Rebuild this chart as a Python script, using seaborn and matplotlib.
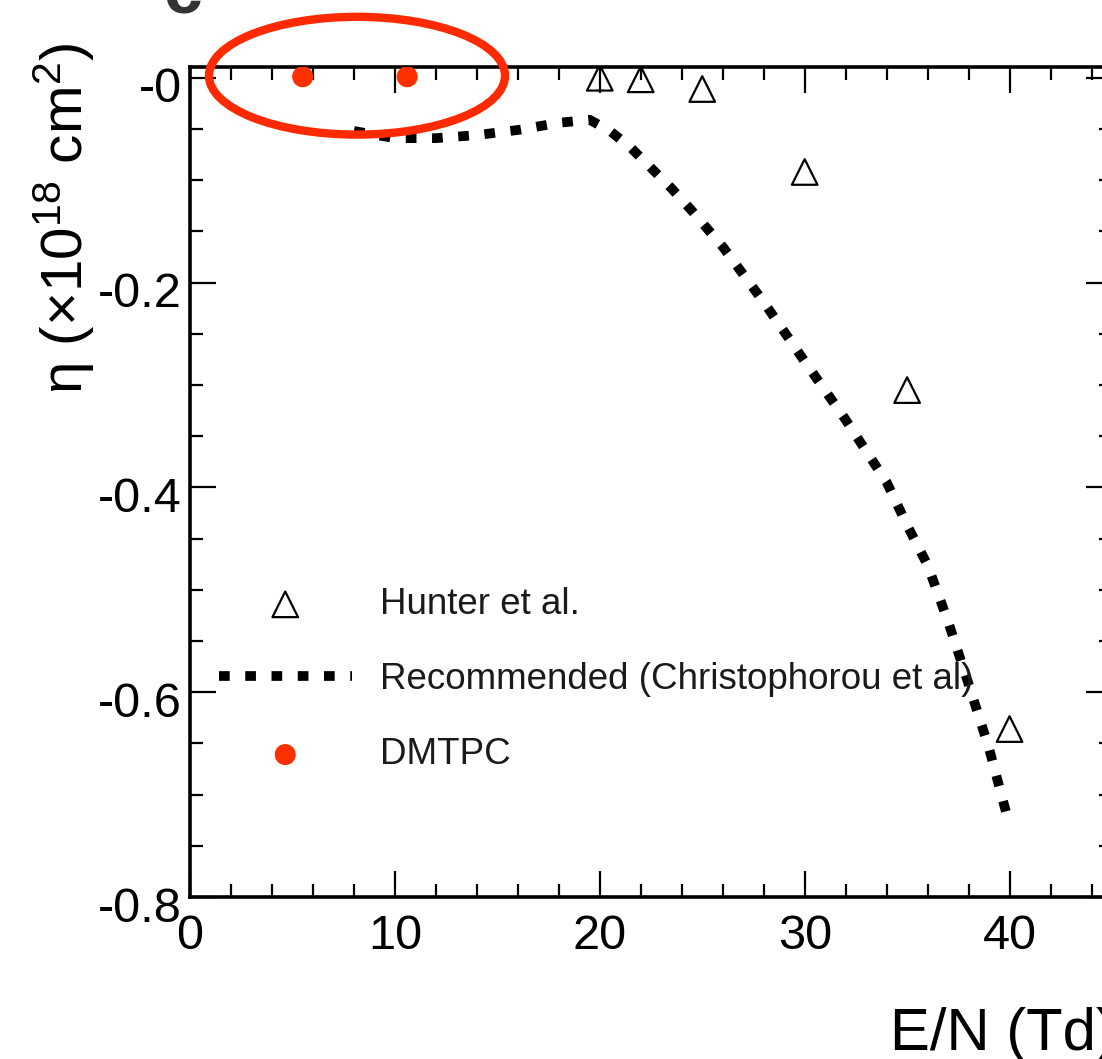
import numpy as np
import pandas as pd
import matplotlib
matplotlib.use("Agg")
import matplotlib.pyplot as plt
import seaborn as sns
from matplotlib.patches import Ellipse
from matplotlib.ticker import FixedLocator, FixedFormatter, MultipleLocator
from matplotlib.transforms import ScaledTranslation

# ---------------- data ----------------
hunter_en = [20, 22, 25, 30, 35, 40]
hunter_eta = [0.0, -0.0015, -0.011, -0.092, -0.305, -0.636]

rec_en = [8, 10, 12, 14, 16, 18, 19.5, 20.5, 21.5, 22.5, 23.5, 24.5,
          26, 28, 30, 32, 34, 35, 36, 37, 38, 39, 40]
rec_eta = [-0.052, -0.059, -0.059, -0.056, -0.051, -0.044, -0.041, -0.052,
           -0.068, -0.088, -0.108, -0.130, -0.165, -0.219, -0.277, -0.334,
           -0.395, -0.437, -0.476, -0.531, -0.592, -0.655, -0.730]

dmtpc_en = [5.5, 10.6]
dmtpc_eta = [0.001, 0.001]

labels = ["Hunter et al.", "Recommended (Christophorou et al)", "DMTPC"]

x_ticks = [0, 10, 20, 30, 40]
x_tick_labels = ["0", "10", "20", "30", "40"]
y_ticks = [0.0, -0.2, -0.4, -0.6, -0.8]
y_tick_labels = ["-0", "-0.2", "-0.4", "-0.6", "-0.8"]

# ---------------- style ----------------
sns.set_theme(style="ticks")
plt.rcParams['font.family'] = ['Liberation Sans', 'DejaVu Sans']
plt.rcParams['mathtext.fontset'] = 'custom'
plt.rcParams['mathtext.rm'] = 'Liberation Sans'
plt.rcParams['mathtext.it'] = 'Liberation Sans:italic'
plt.rcParams['axes.unicode_minus'] = False

W, H = 1102, 1059
fig = plt.figure(figsize=(W / 100, H / 100), dpi=100)
fig.patch.set_facecolor('white')
ax = fig.add_axes([190 / W, 1 - 897 / H, 922 / W, 830 / H])
ax.set_facecolor('white')

red = '#ff3000'

sns.lineplot(x=rec_en, y=rec_eta, ax=ax, color='black', lw=7,
             linestyle=(0, (1.1, 1.6)), sort=False, estimator=None,
             label=labels[1], zorder=3)
sns.scatterplot(x=hunter_en, y=hunter_eta, ax=ax, marker='^', s=340,
                facecolors='none', edgecolors='black', linewidths=1.6,
                label=labels[0], zorder=4)
sns.scatterplot(x=dmtpc_en, y=dmtpc_eta, ax=ax, marker='o', s=230,
                color=red, edgecolor='none', linewidth=0,
                label=labels[2], zorder=4)

ax.set_xlim(0, 45)
ax.set_ylim(-0.8, 0.0105)

ax.xaxis.set_major_locator(FixedLocator(x_ticks))
ax.xaxis.set_major_formatter(FixedFormatter(x_tick_labels))
ax.yaxis.set_major_locator(FixedLocator(y_ticks))
ax.yaxis.set_major_formatter(FixedFormatter(y_tick_labels))
ax.xaxis.set_minor_locator(MultipleLocator(2))
ax.yaxis.set_minor_locator(MultipleLocator(0.05))

ax.tick_params(which='both', direction='in', top=True, right=True,
               width=1.6, color='black', labelcolor='black')
ax.tick_params(which='major', length=19)
ax.tick_params(which='minor', length=9.5)
ax.tick_params(axis='x', which='major', labelsize=35, pad=12)
ax.tick_params(axis='y', which='major', labelsize=35, pad=6)

for sp in ax.spines.values():
    sp.set_linewidth(2.6)
    sp.set_color('black')
    sp.set_visible(True)

ax.set_xlabel('')
ax.set_ylabel('')

# shift y tick labels slightly downward (ROOT-like placement)
off = ScaledTranslation(0, -7 / 100, fig.dpi_scale_trans)
for lab in ax.get_yticklabels():
    lab.set_transform(lab.get_transform() + off)

# legend
h, l = ax.get_legend_handles_labels()
hd = dict(zip(l, h))
leg = ax.legend([hd[k] for k in labels], labels, loc='upper left',
                bbox_to_anchor=(219 / W, 1 - 587 / H),
                bbox_transform=fig.transFigure, frameon=False,
                fontsize=26.5, handlelength=3.6, handletextpad=0.77,
                labelspacing=1.09, borderpad=0, borderaxespad=0)
for t in leg.get_texts():
    t.set_color('#1a1a1a')

# red annotation ellipse
ax.add_patch(Ellipse((8.15, 0.002), width=14.45, height=0.115,
                     transform=ax.transData, fill=False, edgecolor='#ff2a00',
                     lw=6, clip_on=False, zorder=6))

# axis labels
fig.text(890 / W, 1 - 1050 / H, 'E/N (Td)', fontsize=43, ha='left',
         va='baseline', color='black')
fig.text(64 / W, 1 - 218 / H, r'η (×10$^{18}$ cm$^{2}$)', fontsize=42,
         rotation=90, ha='center', va='center', color='black')

# partially visible panel letter
fig.text(163 / W, 1 - 13 / H, 'c', fontsize=50, fontweight='bold',
         color='#333333', ha='left', va='baseline')

fig.savefig('out.png', dpi=100, facecolor='white')
